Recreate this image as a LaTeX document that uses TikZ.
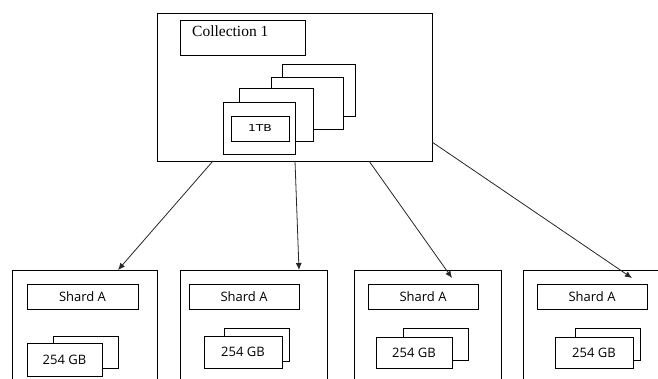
\documentclass[tikz,border=0pt]{standalone}
\usepackage{fontspec}
\setmainfont{Liberation Serif}
\newfontfamily\osans{Open Sans}
\newfontfamily\widesans[FakeStretch=1.3]{DejaVu Sans}
\usetikzlibrary{arrows.meta}
\tikzset{
  box/.style={draw=black, line width=0.9pt, fill=white, anchor=north west, inner sep=0pt, outer sep=0pt},
  conn/.style={draw=black!85, line width=0.8pt, -{Latex[length=7pt,width=6pt]}},
  shardtxt/.style={font=\osans\fontsize{13}{15}\selectfont},
}
\begin{document}
\begin{tikzpicture}[x=1pt,y=-1pt]
\useasboundingbox (0,0) rectangle (658,379);
\clip (0,0) rectangle (658,379);
% top collection
\node[box, minimum width=275pt, minimum height=148pt] (big) at (157,13) {};
\node[box, minimum width=125pt, minimum height=35pt] (coll) at (180,20) {};
\node[anchor=base west, inner sep=0pt, font=\fontsize{15.5}{18}\selectfont] (colltxt) at (192,37) {Collection 1};
\node[box, minimum width=73pt, minimum height=52pt] (c4) at (282,64) {};
\node[box, minimum width=72pt, minimum height=52pt] (c3) at (271,77) {};
\node[box, minimum width=74pt, minimum height=53pt] (c2) at (239,88) {};
\node[box, minimum width=72pt, minimum height=52pt] (c1) at (223,102) {};
\node[box, minimum width=58pt, minimum height=25pt, font=\widesans\fontsize{9.5}{11}\selectfont] (tb) at (231,116) {1TB};
% shard 1
\node[box, minimum width=145pt, minimum height=130pt] (b1) at (12,270) {};
\node[box, minimum width=111pt, minimum height=25pt, shardtxt] (s1) at (27,284) {Shard A};
\node[box, minimum width=65pt, minimum height=32pt] (k1) at (53,336) {};
\node[box, minimum width=75pt, minimum height=33pt, shardtxt] (f1) at (27,343) {254 GB};
% shard 2
\node[box, minimum width=147pt, minimum height=130pt] (b2) at (180,270) {};
\node[box, minimum width=110pt, minimum height=25pt, shardtxt] (s2) at (189,284) {Shard A};
\node[box, minimum width=65pt, minimum height=33pt] (k2) at (224,328) {};
\node[box, minimum width=78pt, minimum height=32pt, shardtxt] (f2) at (204,336) {254 GB};
% shard 3
\node[box, minimum width=147pt, minimum height=130pt] (b3) at (354,270) {};
\node[box, minimum width=110pt, minimum height=25pt, shardtxt] (s3) at (368,284) {Shard A};
\node[box, minimum width=65pt, minimum height=32pt] (k3) at (403,328) {};
\node[box, minimum width=76pt, minimum height=31pt, shardtxt] (f3) at (376,337) {254 GB};
% shard 4
\node[box, minimum width=145pt, minimum height=130pt] (b4) at (523,270) {};
\node[box, minimum width=110pt, minimum height=25pt, shardtxt] (s4) at (537,284) {Shard A};
\node[box, minimum width=65pt, minimum height=32pt] (k4) at (575,328) {};
\node[box, minimum width=78pt, minimum height=31pt, shardtxt] (f4) at (555,337) {254 GB};
% connectors
\draw[conn] ([xshift=56pt]big.south west) -- ([xshift=106pt]b1.north west);
\draw[conn] ([xshift=138pt]big.south west) -- ([xshift=119pt]b2.north west);
\draw[conn] ([xshift=212pt]big.south west) -- ([xshift=98pt,yshift=-8pt]b3.north west);
\draw[conn] ([yshift=-129pt]big.north east) -- ([xshift=109pt,yshift=-8pt]b4.north west);
\end{tikzpicture}
\end{document}
